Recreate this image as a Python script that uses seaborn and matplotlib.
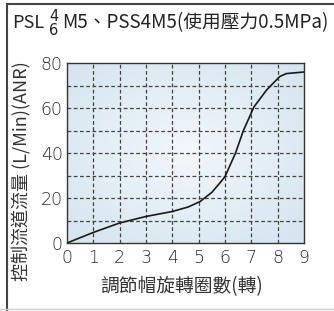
import numpy as np
import pandas as pd
import matplotlib
matplotlib.use("Agg")
import matplotlib.pyplot as plt
import seaborn as sns
from matplotlib.lines import Line2D

turns = [0, 1, 2, 3, 4, 4.6, 5.05, 5.5, 5.8, 6.0, 6.4, 6.7, 7.1, 7.58, 8.08, 8.33, 9.0]
flow = [0, 4.7, 8.9, 11.8, 14.0, 16.0, 18.4, 22.5, 26.6, 29.5, 40.0, 50.0, 60.5, 68.0, 74.0, 75.3, 76.0]
x_ticks = [0, 1, 2, 3, 4, 5, 6, 7, 8, 9]
y_ticks = [0, 20, 40, 60, 80]
title_main = "M5、PSS4M5(使用壓力0.5MPa)"
xlabel = "調節帽旋轉圈數(轉)"
ylabel = "控制流道流量 (L/Min)(ANR)"

sns.set_theme(style="white")
plt.rcParams['font.family'] = ['Noto Sans CJK TC', 'DejaVu Sans']

W, H = 334, 311
fig = plt.figure(figsize=(W/100, H/100), dpi=100)
ax = fig.add_axes([67/W, 1-243/H, (304-67)/W, (243-63)/H])

# background gradient
yy, xx = np.mgrid[-1:1:200j, -1:1:200j]
r = np.sqrt(xx**2 + yy**2)
c0 = np.array([0.95, 0.97, 0.985])
c1 = np.array([0.84, 0.90, 0.94])
t = np.clip(r/1.3, 0, 1)[..., None]
img = c0*(1-t) + c1*t
ax.imshow(img, extent=[0, 9, 0, 80], aspect='auto', zorder=0, interpolation='bilinear')

df = pd.DataFrame({"turns": turns, "flow": flow})
sns.lineplot(data=df, x="turns", y="flow", ax=ax, color="#1a1a1a", lw=1.2, zorder=3)

ax.set_xlim(0, 9)
ax.set_ylim(0, 80)
for xv in range(1, 9):
    ax.axvline(xv, color="#444444", lw=0.9, ls=(0, (3, 2)), zorder=1)
for yv in range(10, 80, 10):
    ax.axhline(yv, color="#444444", lw=0.9, ls=(0, (3, 2)), zorder=1)
ax.set_xticks(x_ticks)
ax.set_yticks(y_ticks)
ax.tick_params(axis='both', length=0, labelsize=12.5, colors="#2a2a2a")
ax.tick_params(axis='y', pad=3)
ax.tick_params(axis='x', pad=4)
for lab in ax.get_xticklabels() + ax.get_yticklabels():
    lab.set_family('DejaVu Sans')
    lab.set_fontweight('light')
ax.set_xlabel("")
ax.set_ylabel("")
for s in ax.spines.values():
    s.set_color("#333333")
    s.set_linewidth(1.0)

fig.text(182/W, 1-287/H, xlabel, ha='center', va='center', fontsize=13.5, color="#333333")
fig.text(22/W, 1-171/H, ylabel, ha='center', va='center', rotation=90, fontsize=13, color="#333333")

# title
fig.text(12/W, 1-28/H, "PSL", ha='left', va='baseline', fontsize=13, color="#222222")
fig.text(49/W, 1-23.5/H, "4\n6", ha='left', va='center', fontsize=10.5,
         linespacing=0.85, family='DejaVu Sans', color="#222222")
fig.text(62/W, 1-28/H, title_main, ha='left', va='baseline', fontsize=13.5, color="#222222")

# frame
fig.add_artist(Line2D([7/W, 7/W], [0, 1-4/H], transform=fig.transFigure, color="#444444", lw=1.5))
fig.add_artist(Line2D([7/W, 1], [1-4/H, 1-4/H], transform=fig.transFigure, color="#444444", lw=1.5))
fig.add_artist(Line2D([0, 1], [1-309/H, 1-309/H], transform=fig.transFigure, color="#cccccc", lw=1))

fig.savefig("out.png", dpi=100)
